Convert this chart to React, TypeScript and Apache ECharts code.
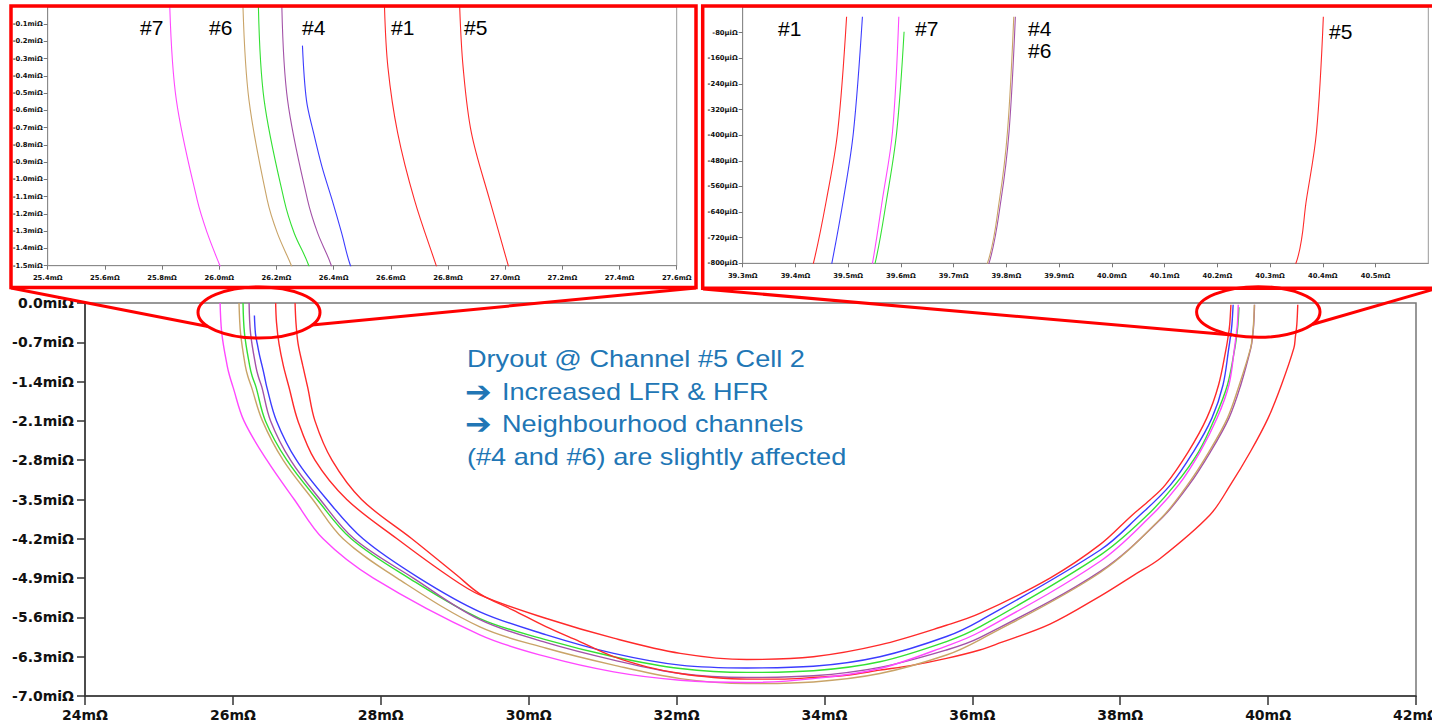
import React, { useEffect, useRef } from "react";
import * as echarts from "echarts";

type Pt = [number, number];

// Nyquist curves: [Re (mΩ), Im (mΩ)]
const CH1: Pt[] = [
  [26.578, 0], [26.59, -0.35], [26.624, -0.73], [26.683, -1.12], [26.759, -1.5], [26.88, -2.1],
  [27.11, -2.8], [27.54, -3.5], [28.22, -4.2], [28.9, -4.85], [29.34, -5.2], [30.24, -5.62],
  [31.15, -5.97], [32.05, -6.24], [32.95, -6.35], [33.85, -6.3], [34.75, -6.09], [35.65, -5.74],
  [36.1, -5.53], [37.05, -4.9], [37.73, -4.3], [38.16, -3.78], [38.4, -3.51], [38.61, -3.24],
  [38.92, -2.65], [39.17, -2.05], [39.33, -1.46], [39.434, -0.8], [39.459, -0.6], [39.48, -0.39],
  [39.497, -0.03],
];
const CH2: Pt[] = [
  [26.291, -0.224], [26.305, -0.54], [26.33, -0.73], [26.36, -0.93], [26.395, -1.12], [26.428, -1.31],
  [26.457, -1.49], [26.59, -2.1], [26.86, -2.8], [27.27, -3.5], [27.76, -4.2], [28.52, -4.9],
  [29.34, -5.5], [30.24, -5.91], [31.15, -6.24], [32.05, -6.45], [32.95, -6.5], [33.85, -6.47],
  [34.75, -6.3], [35.65, -5.94], [36.1, -5.66], [37.73, -4.4], [38.25, -3.8],
  [38.68, -3.24], [38.99, -2.65], [39.24, -2.05], [39.39, -1.46], [39.469, -0.8], [39.491, -0.6],
  [39.51, -0.39], [39.527, -0.03],
];
const CH3: Pt[] = [
  [26.137, 0], [26.157, -0.54], [26.227, -1.12], [26.262, -1.31], [26.311, -1.49], [26.44, -2.1],
  [26.73, -2.8], [27.14, -3.5], [27.6, -4.2], [28.38, -4.9], [29.34, -5.62], [30.24, -6.0],
  [31.15, -6.3], [32.05, -6.51], [32.95, -6.58], [33.85, -6.55], [34.75, -6.39], [35.65, -6.03],
  [36.1, -5.77], [37.73, -4.49], [38.35, -3.8], [38.74, -3.24], [39.06, -2.65],
  [39.28, -2.05], [39.45, -1.46], [39.551, -0.8], [39.573, -0.6], [39.592, -0.39], [39.606, -0.077],
];
const CH4: Pt[] = [
  [26.219, 0], [26.239, -0.54], [26.309, -1.12], [26.344, -1.31], [26.39, -1.49], [26.51, -2.1],
  [26.78, -2.8], [27.18, -3.5], [27.64, -4.2], [28.44, -4.9], [29.34, -5.64], [30.24, -6.05],
  [31.15, -6.36], [32.05, -6.6], [32.95, -6.67], [33.85, -6.64], [34.75, -6.49], [35.65, -6.18],
  [36.1, -5.96], [37.73, -4.78], [38.57, -3.82], [38.93, -3.24], [39.22, -2.65],
  [39.47, -2.05], [39.63, -1.46], [39.767, -0.8], [39.79, -0.6], [39.805, -0.39], [39.817, -0.03],
];
const CH5: Pt[] = [
  [26.841, 0], [26.853, -0.35], [26.882, -0.73], [26.946, -1.12], [27.011, -1.5], [27.11, -2.1],
  [27.34, -2.8], [27.74, -3.5], [28.42, -4.2], [29.03, -4.85], [29.34, -5.18], [29.79, -5.47],
  [30.24, -5.77], [30.69, -6.03], [31.15, -6.3], [31.6, -6.48], [32.05, -6.6], [32.5, -6.67],
  [32.95, -6.7], [33.4, -6.7], [33.85, -6.67], [34.3, -6.63], [34.75, -6.54], [35.2, -6.45],
  [35.65, -6.33], [36.1, -6.18], [36.38, -6.05], [37.05, -5.72], [37.73, -5.22], [38.18, -4.85],
  [38.54, -4.55], [39.21, -3.78], [39.49, -3.24], [39.76, -2.65], [40.0, -2.05], [40.18, -1.46],
  [40.349, -0.8], [40.369, -0.6], [40.388, -0.39], [40.401, -0.03],
];
const CH6: Pt[] = [
  [26.083, 0], [26.104, -0.54], [26.168, -1.12], [26.203, -1.31], [26.25, -1.49], [26.4, -2.1],
  [26.68, -2.8], [27.08, -3.5], [27.49, -4.2], [28.22, -4.9], [29.34, -5.77], [30.24, -6.15],
  [31.15, -6.45], [32.05, -6.69], [32.95, -6.78], [33.85, -6.75], [34.75, -6.6], [35.65, -6.27],
  [36.1, -6.0], [37.73, -4.8], [38.555, -3.83], [38.91, -3.24], [39.2, -2.65],
  [39.45, -2.05], [39.61, -1.46], [39.764, -0.8], [39.787, -0.6], [39.802, -0.39], [39.814, -0.03],
];
const CH7: Pt[] = [
  [25.827, 0], [25.85, -0.54], [25.923, -1.12], [25.958, -1.31], [26.0, -1.49], [26.15, -2.1],
  [26.46, -2.8], [26.83, -3.5], [27.22, -4.2], [27.9, -4.9], [29.34, -5.91], [30.24, -6.3],
  [31.15, -6.57], [32.05, -6.72], [32.95, -6.76], [33.85, -6.69], [34.75, -6.51], [35.65, -6.11],
  [36.1, -5.86], [37.73, -4.6], [38.41, -3.8], [38.79, -3.24], [39.08, -2.65],
  [39.31, -2.05], [39.47, -1.46], [39.546, -0.8], [39.565, -0.6], [39.584, -0.39], [39.596, -0.03],
];

const CURVE_NAMES = ["#1", "#2", "#3", "#4", "#5", "#6", "#7"];
const CURVE_COLORS = ["#ff2a2a", "#3c3cff", "#33e033", "#a352a8", "#ff2a2a", "#c9a468", "#ff48ff"];
const CURVE_DATA = [CH1, CH2, CH3, CH4, CH5, CH6, CH7];

// Axis ranges (mΩ)
const MAIN_X = { min: 24, max: 42, interval: 2 };
const MAIN_Y = { min: -7, max: 0, interval: 0.7 };
const LEFT_X = { min: 25.4, max: 27.6, interval: 0.2 };
const LEFT_Y = { min: -1.5, max: 0, interval: 0.1 };
const RIGHT_X = { min: 39.3, max: 40.6, interval: 0.1 };
const RIGHT_Y = { min: -0.8, max: 0, interval: 0.08 };

const NOTE_LINES = [
  "Dryout @ Channel #5 Cell 2",
  "Increased LFR & HFR",
  "Neighbourhood channels",
  "(#4 and #6) are slightly affected",
];
const NOTE_ARROWS = [false, true, true, false];
const LEFT_INSET_LABELS = ["#7", "#6", "#4", "#1", "#5"];
const RIGHT_INSET_LABELS = ["#1", "#7", "#4", "#6", "#5"];

const RED = "#ff0000";
const BOLD = "DejaVu Sans, Verdana, sans-serif";

function fmtMi(v: number) {
  return (Math.abs(v) < 1e-9 ? "0.0" : v.toFixed(1)) + "miΩ";
}

export default function App() {
  const ref = useRef<HTMLDivElement>(null);

  useEffect(() => {
    if (!ref.current) return;
    const chart = echarts.init(ref.current, undefined, { renderer: "svg" });

    const mkAxis = (idx: number, r: any, fmt: (v: number) => string, small: boolean, showMax: boolean, isX: boolean) => ({
      type: "value",
      gridIndex: idx,
      min: r.min,
      max: r.max,
      interval: r.interval,
      axisLine: { show: true, onZero: false, lineStyle: { color: small ? "#8a8a8a" : "#333", width: small ? 1 : 1.5 } },
      axisTick: {
        show: true,
        length: small ? 4 : isX ? 9 : 8,
        inside: false,
        lineStyle: { color: small ? "#777" : "#333", width: small ? 1 : 1.5 },
      },
      axisLabel: {
        show: true,
        formatter: fmt,
        margin: small ? (isX ? 9 : 5) : isX ? 12 : 11,
        color: "#111",
        fontFamily: BOLD,
        fontWeight: "bold",
        fontSize: small ? 6.8 : 14,
        showMaxLabel: showMax,
        showMinLabel: true,
      },
      splitLine: { show: false },
    });

    const series: any[] = [];
    [0, 1, 2].forEach((g) => {
      CURVE_DATA.forEach((d, i) => {
        series.push({
          type: "line",
          name: CURVE_NAMES[i] + "-" + g,
          xAxisIndex: g,
          yAxisIndex: g,
          data: d,
          showSymbol: false,
          symbol: "none",
          smooth: 0.35,
          clip: true,
          silent: true,
          lineStyle: { color: CURVE_COLORS[i], width: g === 0 ? 1.4 : 1.1 },
          z: 2,
        });
      });
    });

    const noteX = 465;
    const noteTextX = [467, 502, 502, 467];
    const noteY = [359, 392, 424, 457];
    const leftLabelPos = [[140, 27], [209, 27], [302, 27], [391, 27], [464, 27]];
    const rightLabelPos = [[778, 28], [915, 28], [1028, 28], [1028, 50], [1329, 31]];

    const textEl = (text: string, x: number, y: number, size: number, color: string, scaleX = 1, weight = "normal", family = "Liberation Sans, Arial, DejaVu Sans, sans-serif") => ({
      type: "text",
      x,
      y,
      scaleX,
      z: 120,
      silent: true,
      style: {
        text,
        fill: color,
        fontSize: size,
        fontFamily: family,
        fontWeight: weight,
        align: "left",
        verticalAlign: "middle",
        textAlign: "left",
        textVerticalAlign: "middle",
      },
    });

    const graphic: any[] = [
      // inset frames
      { type: "rect", z: 110, silent: true, shape: { x: 11, y: 6, width: 685, height: 281.5 }, style: { fill: "none", stroke: RED, lineWidth: 3.5 } },
      { type: "rect", z: 110, silent: true, shape: { x: 702.7, y: 6, width: 760, height: 282.3 }, style: { fill: "none", stroke: RED, lineWidth: 3.5 } },
      // zoom ellipses
      { type: "ellipse", z: 110, silent: true, shape: { cx: 259, cy: 312.5, rx: 61, ry: 25.5 }, style: { fill: "none", stroke: RED, lineWidth: 3 } },
      { type: "ellipse", z: 110, silent: true, shape: { cx: 1258.3, cy: 312, rx: 61.7, ry: 25.3 }, style: { fill: "none", stroke: RED, lineWidth: 3 } },
      // connector lines
      { type: "line", z: 110, silent: true, shape: { x1: 11, y1: 288, x2: 208, y2: 326.5 }, style: { stroke: RED, lineWidth: 3 } },
      { type: "line", z: 110, silent: true, shape: { x1: 696, y1: 288, x2: 312, y2: 325 }, style: { stroke: RED, lineWidth: 3 } },
      { type: "line", z: 110, silent: true, shape: { x1: 703, y1: 289, x2: 1232, y2: 335 }, style: { stroke: RED, lineWidth: 3 } },
      { type: "line", z: 110, silent: true, shape: { x1: 1312, y1: 324.5, x2: 1445, y2: 286 }, style: { stroke: RED, lineWidth: 3 } },
    ];
    NOTE_LINES.forEach((t, i) => {
      if (NOTE_ARROWS[i]) {
        graphic.push(textEl("➔", noteX, noteY[i], 29, "#2176b5", 1.1, "bold", "DejaVu Sans, sans-serif"));
      }
      graphic.push(textEl(t, noteTextX[i], noteY[i], 24, "#2176b5", 1.13));
    });
    LEFT_INSET_LABELS.forEach((t, i) => graphic.push(textEl(t, leftLabelPos[i][0], leftLabelPos[i][1], 21, "#000")));
    RIGHT_INSET_LABELS.forEach((t, i) => graphic.push(textEl(t, rightLabelPos[i][0], rightLabelPos[i][1], 21, "#000")));

    const gridBase = { show: true, backgroundColor: "#fff", borderColor: "#7a7a7a", borderWidth: 1, containLabel: false, outerBoundsMode: "none" };

    chart.setOption({
      animation: false,
      backgroundColor: "#ffffff",
      textStyle: { fontFamily: BOLD },
      grid: [
        { ...gridBase, left: 85, top: 303, width: 1331, height: 393, borderWidth: 1.5, borderColor: "#777" },
        { ...gridBase, left: 47.7, top: 7, width: 629, height: 258.7, borderColor: "#999" },
        { ...gridBase, left: 742.7, top: 7.1, width: 685.6, height: 256.2, borderColor: "#999" },
      ],
      xAxis: [
        mkAxis(0, MAIN_X, (v: number) => `${Math.round(v)}mΩ`, false, true, true),
        mkAxis(1, LEFT_X, (v: number) => `${v.toFixed(1)}mΩ`, true, true, true),
        mkAxis(2, RIGHT_X, (v: number) => `${v.toFixed(1)}mΩ`, true, false, true),
      ],
      yAxis: [
        mkAxis(0, MAIN_Y, fmtMi, false, true, false),
        mkAxis(1, LEFT_Y, fmtMi, true, false, false),
        mkAxis(2, RIGHT_Y, (v: number) => `${Math.round(v * 1000)}µiΩ`, true, false, false),
      ],
      series,
      graphic,
    });

    return () => chart.dispose();
  }, []);

  return (
    <div
      ref={ref}
      style={{ position: "fixed", left: 0, top: 0, width: 1432, height: 726, background: "#fff" }}
    />
  );
}
